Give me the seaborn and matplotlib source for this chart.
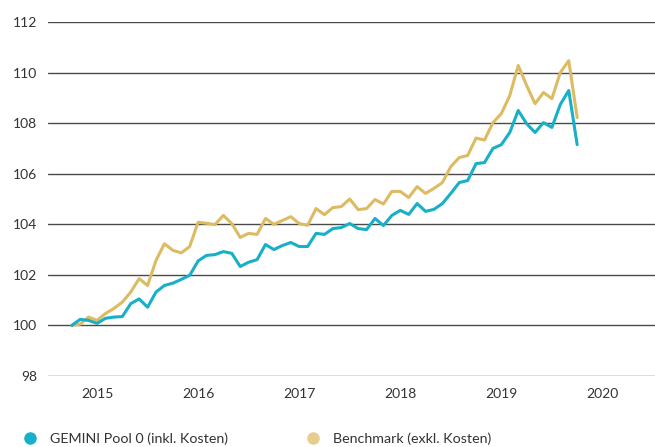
import numpy as np
import pandas as pd
import matplotlib
matplotlib.use("Agg")
import matplotlib.pyplot as plt
import seaborn as sns
from matplotlib.lines import Line2D

# monthly values, Oct 2014 .. Oct 2019 (indexed to 100)
gemini = [100.0, 100.24, 100.2, 100.08, 100.28, 100.33, 100.35, 100.86, 101.05, 100.72,
          101.32, 101.58, 101.67, 101.82, 101.98, 102.55, 102.77, 102.8, 102.92, 102.85,
          102.33, 102.5, 102.6, 103.2, 103.0, 103.16, 103.28, 103.12, 103.12, 103.64,
          103.6, 103.83, 103.87, 104.03, 103.83, 103.79, 104.23, 103.95, 104.35, 104.55,
          104.39, 104.82, 104.51, 104.59, 104.82, 105.22, 105.65, 105.73, 106.4, 106.44,
          107.0, 107.15, 107.63, 108.5, 107.98, 107.63, 108.02, 107.83, 108.74, 109.29,
          107.15]
benchmark = [100.0, 100.05, 100.33, 100.2, 100.47, 100.67, 100.92, 101.32, 101.85, 101.58,
             102.57, 103.23, 102.97, 102.87, 103.12, 104.08, 104.04, 103.99, 104.35, 104.03,
             103.48, 103.64, 103.6, 104.23, 104.0, 104.15, 104.3, 104.03, 103.96, 104.62,
             104.38, 104.66, 104.7, 105.0, 104.58, 104.62, 104.98, 104.8, 105.3, 105.3,
             105.06, 105.49, 105.22, 105.42, 105.65, 106.28, 106.64, 106.72, 107.41, 107.33,
             108.02, 108.38, 109.09, 110.28, 109.49, 108.77, 109.21, 108.97, 110.0, 110.47,
             108.22]
series_names = ["GEMINI Pool 0 (inkl. Kosten)", "Benchmark (exkl. Kosten)"]
year_ticks = [2015, 2016, 2017, 2018, 2019, 2020]
value_ticks = [98, 100, 102, 104, 106, 108, 110, 112]

months = 2014 + 9 / 12 + np.arange(len(gemini)) / 12
df = pd.DataFrame({
    "t": np.concatenate([months, months]),
    "wert": gemini + benchmark,
    "serie": [series_names[0]] * len(gemini) + [series_names[1]] * len(benchmark),
})

blue = "#17B0C8"
gold = "#DDBB62"
colors = {series_names[0]: blue, series_names[1]: gold}

sns.set_style("white")
plt.rcParams["font.family"] = ["Lato", "DejaVu Sans"]

fig = plt.figure(figsize=(6.55, 4.47), dpi=100)
ax = fig.add_axes([48 / 655, 1 - 376 / 447, 1 - 48 / 655, (376 - 22) / 447])

for y in value_ticks:
    ax.axhline(y, color="#4a4a4a", lw=1.0, zorder=0)

sns.lineplot(data=df, x="t", y="wert", hue="serie", palette=colors,
             hue_order=series_names[::-1], lw=2.2, legend=False, ax=ax)

ax.set_xlim(2014.515, 2020.52)
ax.set_ylim(98, 112)
ax.set_xticks(year_ticks)
ax.set_yticks(value_ticks)
ax.tick_params(length=0, labelsize=10, colors="#333333")
ax.tick_params(axis="x", pad=9)
ax.tick_params(axis="y", pad=8)
ax.set_xlabel("")
ax.set_ylabel("")
sns.despine(ax=ax, left=True, bottom=True)

handles = [Line2D([], [], marker="o", ls="", color=blue, markersize=8),
           Line2D([], [], marker="o", ls="", color="#E6CD8E", markersize=8)]
fig.legend(handles, series_names, loc="lower left", bbox_to_anchor=(0.005, -0.024),
           ncol=2, frameon=False, fontsize=10.3, handletextpad=0.4, columnspacing=4.9,
           labelcolor="#333333")

plt.savefig("out.png", dpi=100)
